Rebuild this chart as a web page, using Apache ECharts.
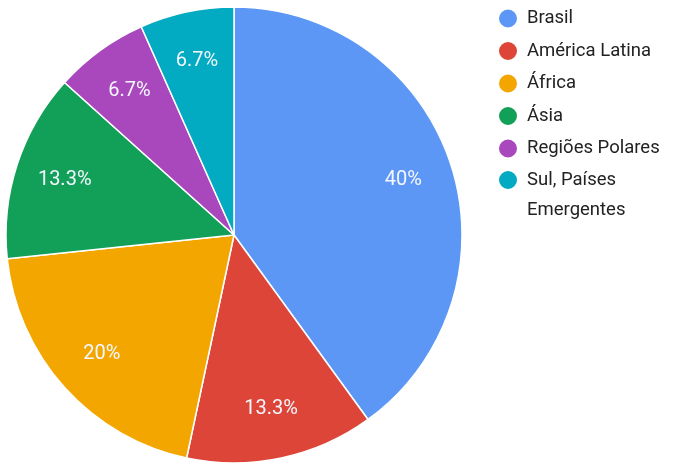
<!DOCTYPE html>
<html><head><meta charset="utf-8">
<script src="https://cdn.jsdelivr.net/npm/echarts@6/dist/echarts.min.js"></script>
<style>html,body{margin:0;padding:0;background:#fff}#c{width:688px;height:465px}</style>
</head><body><div id="c"></div>
<script>
const categories = ['Brasil','América Latina','África','Ásia','Regiões Polares','Sul, Países Emergentes'];
const values = [6, 2, 3, 2, 1, 1];
const colors = ['#5c97f6','#dc4537','#f4a600','#12a059','#a947bd','#02abc2'];

const chart = echarts.init(document.getElementById('c'));
const data = categories.map((n,i)=>({name:n, value:values[i], itemStyle:{color:colors[i]}}));
const total = values.reduce((a,b)=>a+b,0);
const fmtPct = v => { const p = v/total*100; return (Math.round(p*10)/10).toString() + '%'; };
const font = 'Roboto, "Liberation Sans", Arial, sans-serif';
const legendCommon = {
  orient:'vertical', icon:'circle', itemWidth:20, itemHeight:20, itemGap:10,
  left:497, selectedMode:false, padding:0,
  textStyle:{fontSize:18.5, color:'#222', fontFamily:font, lineHeight:20, padding:[0,0,0,4]}
};
chart.setOption({
  animation:false,
  legend:[
    Object.assign({}, legendCommon, {top:7.5, itemGap:10.5, data:categories.slice(0,5)}),
    Object.assign({}, legendCommon, {top:135, data:categories.slice(5),
      formatter: n => '\n' + n.replace('Países ', 'Países\n'),
      textStyle:Object.assign({}, legendCommon.textStyle, {lineHeight:30})})
  ],
  series:[
    {type:'pie', center:[234,235], radius:[0,228], startAngle:90, clockwise:true,
     data:data, label:{show:false}, labelLine:{show:false},
     itemStyle:{borderColor:'#fff', borderWidth:1.5}, silent:true},
    {type:'pie', center:[234,235], radius:[122,228], startAngle:90, clockwise:true,
     data:data.map(d=>({name:d.name, value:d.value, itemStyle:{color:'rgba(0,0,0,0)'}})),
     label:{show:true, position:'inside', formatter:p=>fmtPct(p.value), color:'#f4f7ff',
       fontSize:20, fontFamily:font},
     labelLine:{show:false}, silent:true, itemStyle:{borderWidth:0}}
  ]
});
</script></body></html>
